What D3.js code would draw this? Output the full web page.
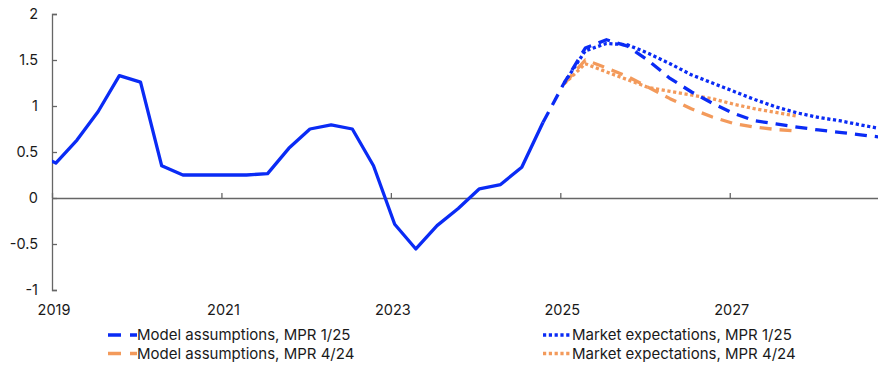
<!DOCTYPE html>
<html>
<head>
<meta charset="utf-8">
<script src="https://cdn.jsdelivr.net/npm/d3@7"></script>
<style>
  body { margin: 0; background: #fff; }
  svg { display: block; font-family: Inter, "Noto Sans", sans-serif; }
  .tick-label { font-size: 14.5px; fill: #1a1a1a; }
  .legend text { font-size: 15px; fill: #1a1a1a; }
</style>
</head>
<body>
<div id="chart"></div>
<script>
// Data (quarterly)

var histStart = 2018.75;   // 2018 Q4
var histValues = [0.49, 0.38, 0.63, 0.94, 1.33, 1.26, 0.35, 0.25, 0.25, 0.25, 0.25,
                  0.265, 0.54, 0.75, 0.795, 0.75, 0.35, -0.285, -0.554, -0.30, -0.115,
                  0.10, 0.146, 0.335, 0.82];

var model125Start = 2024.75;  // 2024 Q4
var model125 = [0.82, 1.25, 1.63, 1.72, 1.65, 1.49, 1.30, 1.155, 1.03,
                0.92, 0.84, 0.805, 0.77, 0.74, 0.714, 0.687, 0.66];

var market125Start = 2025;
var market125 = [1.25, 1.60, 1.68, 1.665, 1.57, 1.46, 1.34, 1.25,
                 1.16, 1.07, 0.99, 0.925, 0.877, 0.84, 0.795, 0.75];

var model424Start = 2025;
var model424 = [1.24, 1.50, 1.415, 1.32, 1.20, 1.08, 0.97, 0.88, 0.81, 0.77, 0.745, 0.727];

var market424Start = 2025;
var market424 = [1.24, 1.46, 1.37, 1.285, 1.20, 1.16, 1.12, 1.08, 1.02, 0.97, 0.93, 0.89];

var yTicks = [-1, -0.5, 0, 0.5, 1, 1.5, 2];
var xTicks = [2019, 2021, 2023, 2025, 2027];

var legendItems = [
  {label: "Model assumptions, MPR 1/25", color: "#0a2bf5", dash: "13,9", col: 0, row: 0},
  {label: "Model assumptions, MPR 4/24", color: "#f39a5b", dash: "13,9", col: 0, row: 1},
  {label: "Market expectations, MPR 1/25", color: "#0a2bf5", dash: "3.2,2.6", col: 1, row: 0},
  {label: "Market expectations, MPR 4/24", color: "#f39a5b", dash: "3.2,2.6", col: 1, row: 1}
];

// Layout

var width = 878,
    height = 367;
var margin = {top: 14, right: 0, bottom: 77, left: 52};
var qOffset = 0.045;  // observations sit a little after the quarter start

var x = d3.scaleLinear()
    .domain([2019, 2028.75])
    .range([margin.left, width - margin.right]);
var y = d3.scaleLinear()
    .domain([-1, 2])
    .range([height - margin.bottom, margin.top]);

var svg = d3.select("#chart").append("svg")
    .attr("width", width)
    .attr("height", height);

svg.append("clipPath")
    .attr("id", "plot-clip")
  .append("rect")
    .attr("x", margin.left)
    .attr("y", 0)
    .attr("width", width - margin.left)
    .attr("height", height);

var toPoints = function(start, values) {
  return values.map(function(v, i) { return {t: start + i / 4 + qOffset, v: v}; });
};

var line = d3.line()
    .x(function(d) { return x(d.t); })
    .y(function(d) { return y(d.v); });

// Axes

var axisColor = "#666";

// y axis: ticks inside
var yAxis = svg.append("g")
    .attr("transform", "translate(" + margin.left + ",0)")
    .call(d3.axisRight(y).tickValues(yTicks).tickSize(5).tickFormat(""));
yAxis.select(".domain").attr("stroke", axisColor).attr("stroke-width", 1.3);
yAxis.selectAll(".tick line").attr("stroke", axisColor).attr("stroke-width", 1.3);

svg.selectAll(".ylab")
    .data(yTicks)
  .enter().append("text")
    .attr("class", "tick-label ylab")
    .attr("x", margin.left - 14)
    .attr("y", function(d) { return y(d); })
    .attr("dy", "0.35em")
    .attr("text-anchor", "end")
    .text(function(d) { return d; });

// x axis sits on zero, ticks point up
var xAxis = svg.append("g")
    .attr("transform", "translate(0," + y(0) + ")")
    .call(d3.axisTop(x).tickValues(xTicks).tickSize(5).tickSizeOuter(0).tickFormat(""));
xAxis.select(".domain").attr("stroke", axisColor).attr("stroke-width", 1.3);
xAxis.selectAll(".tick line").attr("stroke", axisColor).attr("stroke-width", 1.3);

svg.selectAll(".xlab")
    .data(xTicks)
  .enter().append("text")
    .attr("class", "tick-label xlab")
    .attr("x", function(d) { return x(d) + 2; })
    .attr("y", y(-1) + 20)
    .attr("dy", "0.35em")
    .attr("text-anchor", "middle")
    .text(function(d) { return d; });

// Lines

var plot = svg.append("g").attr("clip-path", "url(#plot-clip)");

var series = [
  {pts: toPoints(market424Start, market424), color: "#f39a5b", dash: "3.2,2.6"},
  {pts: toPoints(model424Start, model424), color: "#f39a5b", dash: "12,8"},
  {pts: toPoints(market125Start, market125), color: "#0a2bf5", dash: "3.2,2.6"},
  {pts: toPoints(model125Start, model125), color: "#0a2bf5", dash: "12,8"},
  {pts: toPoints(histStart, histValues), color: "#0a2bf5", dash: null}
];

plot.selectAll(".series")
    .data(series)
  .enter().append("path")
    .attr("class", "series")
    .attr("fill", "none")
    .attr("stroke", function(d) { return d.color; })
    .attr("stroke-width", 3.3)
    .attr("stroke-linejoin", "round")
    .attr("stroke-dasharray", function(d) { return d.dash; })
    .attr("d", function(d) { return line(d.pts); });

// Legend

var legend = svg.append("g").attr("class", "legend");
var colX = [108, 543],
    rowY = [335, 353.5],
    sampleLen = 29;

var item = legend.selectAll(".item")
    .data(legendItems)
  .enter().append("g")
    .attr("class", "item")
    .attr("transform", function(d) {
      return "translate(" + colX[d.col] + "," + rowY[d.row] + ")";
    });

item.append("line")
    .attr("x1", 0)
    .attr("x2", sampleLen)
    .attr("stroke", function(d) { return d.color; })
    .attr("stroke-width", 3.3)
    .attr("stroke-dasharray", function(d) { return d.dash; });

item.append("text")
    .attr("x", sampleLen)
    .attr("dy", "0.35em")
    .text(function(d) { return d.label; });
</script>
</body>
</html>
